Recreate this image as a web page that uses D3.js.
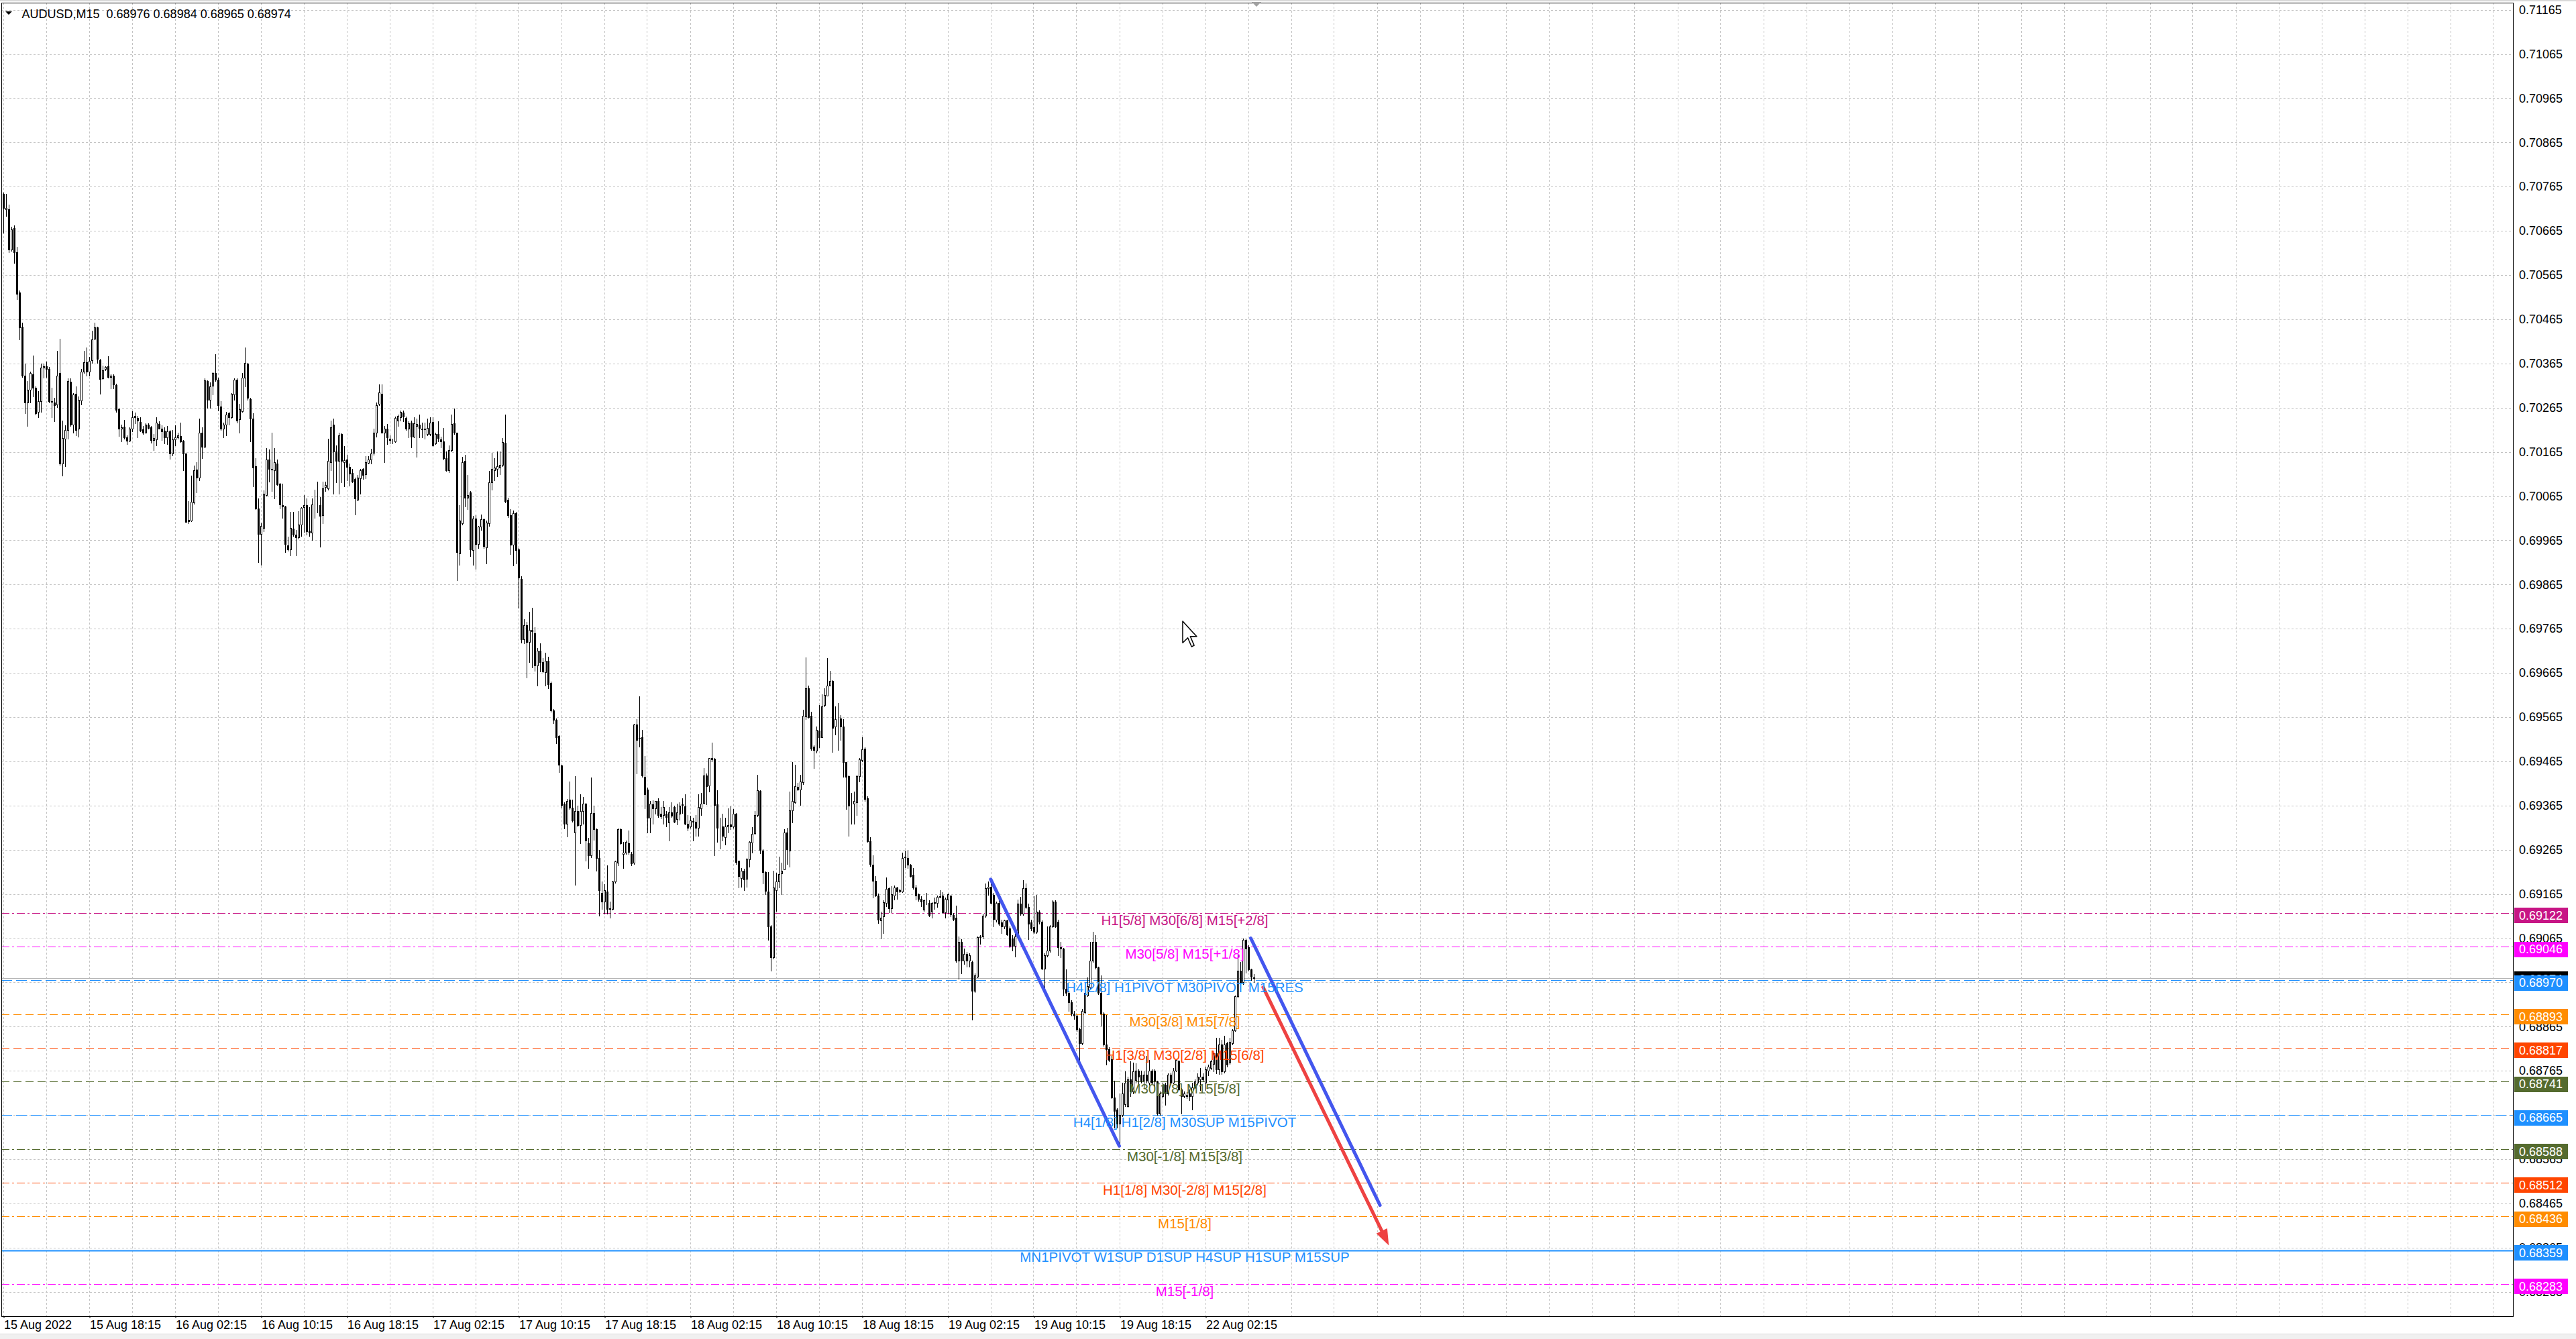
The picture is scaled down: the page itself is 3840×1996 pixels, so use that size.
<!DOCTYPE html>
<html><head><meta charset="utf-8">
<script src="https://cdn.jsdelivr.net/npm/d3@7"></script>
<style>
html,body{margin:0;padding:0;background:#fff;overflow:hidden}
svg{display:block}
text{font-family:"Liberation Sans",Arial,sans-serif}
</style></head><body>
<svg id="c" width="3840" height="1996"></svg>
<script>
const chartTitle = "AUDUSD,M15  0.68976 0.68984 0.68965 0.68974";

const open = [
0.70749,0.70714,0.70714,0.70623,0.70671,0.70617,0.70525,0.70448,0.70338,0.70276,
0.70306,0.70341,0.70310,0.70256,0.70279,0.70355,0.70358,0.70352,0.70280,0.70277,
0.70272,0.70344,0.70139,0.70195,0.70215,0.70324,0.70226,0.70296,0.70217,0.70282,
0.70347,0.70368,0.70347,0.70372,0.70421,0.70446,0.70373,0.70332,0.70352,0.70358,
0.70334,0.70338,0.70316,0.70262,0.70218,0.70222,0.70198,0.70190,0.70217,0.70247,
0.70242,0.70232,0.70216,0.70209,0.70226,0.70221,0.70192,0.70193,0.70228,0.70218,
0.70213,0.70198,0.70211,0.70161,0.70193,0.70198,0.70201,0.70190,0.70161,0.70011,
0.70009,0.70051,0.70125,0.70106,0.70209,0.70177,0.70326,0.70283,0.70314,0.70344,
0.70329,0.70268,0.70217,0.70226,0.70252,0.70244,0.70295,0.70329,0.70239,0.70257,
0.70333,0.70364,0.70285,0.70240,0.70132,0.70037,0.69980,0.69993,0.70068,0.70147,
0.70125,0.70124,0.70139,0.70093,0.70044,0.70042,0.69954,0.69945,0.69992,0.69978,
0.69972,0.70000,0.70040,0.70044,0.69987,0.69982,0.70047,0.70046,0.70045,
0.70022,0.70085,0.70082,0.70142,0.70226,0.70166,0.70144,0.70205,0.70142,0.70147,
0.70131,0.70118,0.70103,0.70057,0.70105,0.70126,0.70115,0.70140,0.70147,0.70163,
0.70208,0.70273,0.70297,0.70209,0.70217,0.70195,0.70189,0.70189,0.70235,0.70243,
0.70254,0.70242,0.70217,0.70231,0.70200,0.70224,0.70226,0.70218,0.70217,0.70206,
0.70206,0.70233,0.70184,0.70206,0.70193,0.70189,0.70150,0.70124,0.70169,0.70230,
0.70208,0.69936,0.70003,0.70144,0.70061,0.70073,0.69943,0.70014,0.69957,0.69996,
0.70012,0.69949,0.70003,0.70096,0.70124,0.70126,0.70129,0.70135,0.70186,0.70057,
0.70022,0.69955,0.70026,0.69945,0.69878,0.69741,0.69773,0.69735,0.69763,0.69754,
0.69682,0.69715,0.69689,0.69667,0.69692,0.69642,0.69580,0.69559,0.69522,0.69455,
0.69369,0.69323,0.69378,0.69360,0.69304,0.69352,0.69320,0.69352,0.69369,0.69280,
0.69252,0.69348,0.69311,0.69246,0.69167,0.69148,0.69171,0.69133,0.69131,0.69193,
0.69236,0.69311,0.69255,0.69258,0.69280,0.69255,0.69236,
0.69549,0.69518,0.69520,0.69430,0.69401,0.69338,0.69367,0.69358,0.69376,0.69346,
0.69343,0.69347,0.69326,0.69349,0.69362,0.69334,0.69347,0.69366,0.69363,0.69324,
0.69317,0.69330,0.69329,0.69314,0.69358,0.69371,0.69433,0.69410,0.69472,0.69471,
0.69368,0.69316,0.69317,0.69294,0.69317,0.69322,0.69317,0.69347,0.69240,0.69201,
0.69218,0.69199,0.69243,0.69281,0.69302,0.69343,0.69398,0.69263,0.69214,0.69171,
0.69092,0.69021,0.69174,0.69193,0.69211,0.69221,0.69304,0.69263,0.69354,0.69373,
0.69407,0.69401,0.69418,0.69567,0.69631,0.69568,0.69498,0.69489,0.69535,0.69520,
0.69592,0.69614,0.69637,0.69647,0.69543,0.69560,0.69562,0.69543,0.69463,0.69432,
0.69368,0.69370,0.69373,0.69432,0.69468,0.69494,0.69381,0.69285,0.69231,0.69194,
0.69162,0.69105,0.69115,0.69145,0.69178,0.69132,0.69162,0.69179,0.69171,0.69171,
0.69248,0.69247,0.69231,0.69208,0.69179,0.69164,0.69154,0.69129,0.69144,0.69144,
0.69125,0.69144,0.69145,0.69159,0.69161,0.69124,0.69152,0.69161,
0.69117,0.69111,0.69014,0.69056,0.69014,0.69029,0.69014,0.69011,0.68946,0.68978,
0.69067,0.69069,0.69116,0.69178,0.69181,0.69163,0.69107,0.69145,0.69101,0.69092,
0.69105,0.69087,0.69064,0.69047,0.69069,0.69143,0.69120,0.69178,0.69135,0.69100,
0.69090,0.69080,0.69125,0.69102,0.68996,0.69026,0.69037,0.69092,0.69148,0.69102,
0.69044,0.69042,0.68951,0.68941,0.68920,0.68895,0.68890,0.68860,0.68827,0.68898,
0.68935,0.68953,0.69014,0.69057,0.68999,0.68941,0.68895,0.68824,0.68814,0.68791,
0.68705,0.68678,0.68645,0.68665,0.68690,0.68685,0.68746,0.68718,0.68744,0.68766,
0.68756,0.68743,0.68756,0.68738,0.68766,0.68766,0.68741,0.68668,0.68708,0.68733,
0.68713,0.68756,0.68738,0.68766,0.68786,0.68723,0.68708,0.68708,0.68713,0.68708,
0.68728,0.68738,0.68746,0.68751,0.68738,0.68766,0.68771,0.68781,0.68804,0.68769,
0.68825,0.68764,0.68827,0.68784,0.68827,0.68857,0.68933,0.68991,0.68966,0.69061,
0.69044,0.68994,0.68976];

const high = [
0.70751,0.70748,0.70724,0.70674,0.70678,0.70628,0.70530,0.70457,0.70364,0.70326,
0.70347,0.70383,0.70313,0.70302,0.70364,0.70364,0.70369,0.70357,0.70310,0.70288,
0.70393,0.70421,0.70236,0.70225,0.70331,0.70331,0.70298,0.70313,0.70290,0.70353,
0.70394,0.70401,0.70380,0.70439,0.70457,0.70448,0.70376,0.70360,0.70358,0.70381,
0.70341,0.70341,0.70319,0.70265,0.70226,0.70237,0.70203,0.70220,0.70257,0.70254,
0.70246,0.70244,0.70223,0.70229,0.70229,0.70223,0.70205,0.70244,0.70234,0.70225,
0.70221,0.70223,0.70215,0.70214,0.70225,0.70209,0.70231,0.70192,0.70162,0.70054,
0.70111,0.70134,0.70142,0.70240,0.70221,0.70331,0.70327,0.70322,0.70345,0.70386,
0.70333,0.70279,0.70231,0.70256,0.70256,0.70298,0.70331,0.70332,0.70273,0.70343,
0.70401,0.70366,0.70288,0.70252,0.70151,0.70059,0.70003,0.70078,0.70173,0.70171,
0.70208,0.70173,0.70147,0.70095,0.70093,0.70043,0.69973,0.70029,0.70029,0.69989,
0.70031,0.70040,0.70068,0.70059,0.70040,0.70059,0.70080,0.70097,0.70062,
0.70098,0.70098,0.70194,0.70235,0.70240,0.70180,0.70208,0.70207,0.70178,0.70159,
0.70138,0.70126,0.70107,0.70113,0.70126,0.70128,0.70156,0.70156,0.70172,0.70217,
0.70277,0.70317,0.70317,0.70224,0.70228,0.70203,0.70194,0.70245,0.70249,0.70259,
0.70259,0.70245,0.70234,0.70235,0.70243,0.70240,0.70249,0.70231,0.70231,0.70240,
0.70243,0.70243,0.70209,0.70234,0.70200,0.70219,0.70166,0.70180,0.70249,0.70263,
0.70209,0.70045,0.70154,0.70159,0.70113,0.70077,0.70020,0.70022,0.69998,0.70024,
0.70014,0.70010,0.70122,0.70163,0.70150,0.70166,0.70166,0.70196,0.70249,0.70061,
0.70036,0.70033,0.70029,0.69947,0.69884,0.69787,0.69780,0.69803,0.69812,0.69769,
0.69722,0.69732,0.69698,0.69710,0.69701,0.69645,0.69583,0.69562,0.69524,0.69457,
0.69373,0.69380,0.69420,0.69379,0.69432,0.69364,0.69390,0.69385,0.69371,0.69292,
0.69429,0.69364,0.69313,0.69264,0.69193,0.69187,0.69230,0.69148,0.69195,0.69241,
0.69313,0.69313,0.69283,0.69286,0.69308,0.69260,0.69550,
0.69561,0.69612,0.69536,0.69477,0.69405,0.69375,0.69377,0.69376,0.69382,0.69362,
0.69376,0.69353,0.69362,0.69372,0.69364,0.69370,0.69372,0.69382,0.69391,0.69344,
0.69342,0.69337,0.69343,0.69391,0.69393,0.69450,0.69437,0.69473,0.69508,0.69473,
0.69400,0.69337,0.69347,0.69337,0.69359,0.69363,0.69357,0.69348,0.69241,0.69223,
0.69222,0.69246,0.69285,0.69316,0.69353,0.69435,0.69400,0.69266,0.69216,0.69215,
0.69094,0.69218,0.69213,0.69250,0.69235,0.69312,0.69314,0.69397,0.69464,0.69458,
0.69417,0.69435,0.69582,0.69700,0.69637,0.69577,0.69501,0.69543,0.69592,0.69617,
0.69631,0.69699,0.69669,0.69649,0.69589,0.69597,0.69570,0.69561,0.69464,0.69433,
0.69393,0.69397,0.69434,0.69473,0.69519,0.69497,0.69386,0.69294,0.69252,0.69205,
0.69166,0.69125,0.69150,0.69203,0.69180,0.69183,0.69184,0.69181,0.69176,0.69258,
0.69263,0.69263,0.69232,0.69223,0.69185,0.69166,0.69160,0.69152,0.69167,0.69151,
0.69146,0.69157,0.69162,0.69174,0.69169,0.69157,0.69166,0.69162,
0.69122,0.69138,0.69069,0.69062,0.69042,0.69034,0.69031,0.69014,0.68986,0.69069,
0.69072,0.69120,0.69189,0.69193,0.69197,0.69168,0.69148,0.69150,0.69107,0.69107,
0.69107,0.69092,0.69072,0.69077,0.69153,0.69158,0.69196,0.69188,0.69143,0.69107,
0.69160,0.69163,0.69128,0.69105,0.69031,0.69092,0.69095,0.69150,0.69150,0.69107,
0.69057,0.69043,0.68994,0.68946,0.68925,0.68900,0.68892,0.68862,0.68905,0.68951,
0.68976,0.69057,0.69080,0.69072,0.69001,0.68981,0.68898,0.68892,0.68819,0.68799,
0.68743,0.68680,0.68713,0.68738,0.68764,0.68751,0.68787,0.68784,0.68782,0.68768,
0.68766,0.68764,0.68799,0.68789,0.68768,0.68768,0.68743,0.68718,0.68738,0.68738,
0.68759,0.68761,0.68771,0.68791,0.68789,0.68726,0.68718,0.68716,0.68723,0.68738,
0.68746,0.68759,0.68771,0.68759,0.68774,0.68779,0.68789,0.68806,0.68839,0.68839,
0.68835,0.68844,0.68830,0.68840,0.68860,0.68936,0.69027,0.69011,0.69064,0.69063,
0.69049,0.68996,0.68984];

const low = [
0.70661,0.70698,0.70616,0.70620,0.70592,0.70511,0.70419,0.70334,0.70252,0.70223,
0.70276,0.70290,0.70249,0.70244,0.70256,0.70333,0.70335,0.70277,0.70244,0.70234,
0.70266,0.70136,0.70111,0.70132,0.70195,0.70223,0.70209,0.70203,0.70200,0.70272,
0.70344,0.70338,0.70338,0.70366,0.70420,0.70366,0.70296,0.70330,0.70350,0.70333,
0.70308,0.70308,0.70256,0.70201,0.70189,0.70195,0.70182,0.70189,0.70211,0.70229,
0.70198,0.70211,0.70205,0.70208,0.70217,0.70186,0.70169,0.70180,0.70217,0.70192,
0.70184,0.70182,0.70149,0.70157,0.70180,0.70195,0.70187,0.70124,0.70006,0.70004,
0.70008,0.70047,0.70074,0.70101,0.70150,0.70175,0.70265,0.70265,0.70295,0.70326,
0.70258,0.70214,0.70198,0.70203,0.70226,0.70242,0.70283,0.70231,0.70209,0.70256,
0.70313,0.70283,0.70189,0.70087,0.70035,0.69915,0.69910,0.69985,0.70066,0.70097,
0.70077,0.70059,0.70090,0.70037,0.70016,0.69938,0.69942,0.69930,0.69975,0.69931,
0.69969,0.69975,0.69984,0.69978,0.69975,0.69966,0.70015,0.70028,0.69950,
0.70003,0.70076,0.70079,0.70124,0.70070,0.70096,0.70070,0.70096,0.70087,0.70101,
0.70089,0.70096,0.70023,0.70055,0.70070,0.70103,0.70105,0.70138,0.70138,0.70159,
0.70200,0.70270,0.70208,0.70141,0.70182,0.70184,0.70184,0.70187,0.70224,0.70235,
0.70234,0.70215,0.70198,0.70175,0.70198,0.70154,0.70198,0.70198,0.70194,0.70203,
0.70203,0.70178,0.70182,0.70189,0.70175,0.70147,0.70122,0.70119,0.70166,0.70206,
0.69875,0.69910,0.70001,0.70042,0.70036,0.69929,0.69910,0.69901,0.69947,0.69989,
0.69947,0.69912,0.69998,0.70079,0.70101,0.70110,0.70115,0.70133,0.70051,0.70017,
0.69933,0.69908,0.69912,0.69813,0.69734,0.69732,0.69655,0.69689,0.69678,0.69670,
0.69636,0.69668,0.69667,0.69636,0.69631,0.69577,0.69552,0.69506,0.69441,0.69360,
0.69313,0.69295,0.69357,0.69329,0.69185,0.69317,0.69280,0.69323,0.69241,0.69224,
0.69248,0.69288,0.69218,0.69116,0.69131,0.69120,0.69120,0.69111,0.69129,0.69190,
0.69230,0.69278,0.69224,0.69255,0.69255,0.69230,0.69233,
0.69437,0.69498,0.69430,0.69359,0.69304,0.69304,0.69323,0.69346,0.69339,0.69336,
0.69323,0.69317,0.69286,0.69339,0.69326,0.69322,0.69333,0.69348,0.69322,0.69309,
0.69315,0.69286,0.69297,0.69296,0.69344,0.69370,0.69368,0.69396,0.69465,0.69252,
0.69282,0.69267,0.69286,0.69277,0.69304,0.69311,0.69314,0.69233,0.69180,0.69181,
0.69174,0.69181,0.69227,0.69258,0.69300,0.69341,0.69257,0.69188,0.69165,0.69061,
0.68991,0.69019,0.69127,0.69180,0.69165,0.69220,0.69233,0.69226,0.69326,0.69371,
0.69400,0.69366,0.69413,0.69560,0.69564,0.69491,0.69450,0.69484,0.69496,0.69519,
0.69590,0.69613,0.69636,0.69486,0.69526,0.69491,0.69513,0.69430,0.69357,0.69297,
0.69324,0.69323,0.69344,0.69419,0.69465,0.69375,0.69282,0.69228,0.69157,0.69160,
0.69099,0.69064,0.69077,0.69137,0.69124,0.69124,0.69152,0.69154,0.69169,0.69169,
0.69225,0.69223,0.69204,0.69176,0.69152,0.69149,0.69137,0.69127,0.69142,0.69115,
0.69112,0.69131,0.69136,0.69157,0.69122,0.69112,0.69121,0.69115,
0.69105,0.69011,0.68973,0.68986,0.69006,0.69001,0.69001,0.68880,0.68943,0.68976,
0.69052,0.69064,0.69113,0.69163,0.69143,0.69092,0.69102,0.69095,0.69077,0.69087,
0.69072,0.69044,0.69037,0.69024,0.69064,0.69117,0.69117,0.69132,0.69062,0.69082,
0.69077,0.69077,0.69097,0.68994,0.68946,0.69024,0.69034,0.69090,0.69090,0.69026,
0.69021,0.68935,0.68935,0.68900,0.68890,0.68882,0.68855,0.68779,0.68825,0.68895,
0.68933,0.68951,0.69011,0.68996,0.68938,0.68867,0.68821,0.68779,0.68787,0.68703,
0.68637,0.68637,0.68599,0.68662,0.68685,0.68683,0.68708,0.68713,0.68738,0.68733,
0.68738,0.68726,0.68738,0.68733,0.68736,0.68721,0.68665,0.68665,0.68705,0.68688,
0.68710,0.68733,0.68736,0.68764,0.68721,0.68668,0.68705,0.68703,0.68698,0.68678,
0.68726,0.68733,0.68721,0.68741,0.68721,0.68754,0.68769,0.68764,0.68759,0.68758,
0.68758,0.68761,0.68774,0.68781,0.68825,0.68855,0.68930,0.68961,0.68961,0.68987,
0.68992,0.68970,0.68965];

const close = [
0.70717,0.70717,0.70622,0.70668,0.70616,0.70523,0.70447,0.70337,0.70277,0.70306,
0.70344,0.70310,0.70252,0.70279,0.70355,0.70358,0.70353,0.70279,0.70278,0.70271,
0.70337,0.70138,0.70196,0.70214,0.70326,0.70226,0.70295,0.70215,0.70283,0.70347,
0.70367,0.70347,0.70371,0.70420,0.70446,0.70375,0.70330,0.70349,0.70357,0.70335,
0.70338,0.70318,0.70260,0.70218,0.70221,0.70198,0.70190,0.70217,0.70244,0.70244,
0.70236,0.70213,0.70209,0.70227,0.70219,0.70192,0.70196,0.70231,0.70218,0.70211,
0.70198,0.70212,0.70161,0.70193,0.70198,0.70203,0.70189,0.70161,0.70007,0.70008,
0.70052,0.70124,0.70106,0.70209,0.70177,0.70327,0.70283,0.70313,0.70344,0.70329,
0.70270,0.70217,0.70226,0.70249,0.70244,0.70296,0.70329,0.70236,0.70262,0.70333,
0.70366,0.70287,0.70240,0.70130,0.70037,0.69980,0.69998,0.70070,0.70147,0.70127,
0.70127,0.70141,0.70091,0.70046,0.70042,0.69956,0.69945,0.69993,0.69978,0.69972,
0.70000,0.70038,0.70044,0.69985,0.69982,0.70046,0.70047,0.70046,0.70020,
0.70082,0.70090,0.70144,0.70221,0.70166,0.70144,0.70203,0.70144,0.70146,0.70131,
0.70116,0.70098,0.70059,0.70107,0.70124,0.70113,0.70142,0.70147,0.70161,0.70209,
0.70271,0.70299,0.70209,0.70217,0.70198,0.70191,0.70188,0.70242,0.70247,0.70256,
0.70245,0.70217,0.70230,0.70200,0.70230,0.70228,0.70219,0.70216,0.70216,0.70219,
0.70231,0.70180,0.70206,0.70196,0.70189,0.70150,0.70124,0.70169,0.70228,0.70208,
0.69938,0.70010,0.70142,0.70061,0.70068,0.69945,0.70014,0.69957,0.69996,0.70012,
0.69952,0.70005,0.70096,0.70126,0.70129,0.70133,0.70135,0.70187,0.70054,0.70022,
0.69955,0.70026,0.69943,0.69880,0.69741,0.69773,0.69735,0.69763,0.69759,0.69682,
0.69715,0.69689,0.69668,0.69692,0.69639,0.69580,0.69559,0.69520,0.69457,0.69366,
0.69323,0.69376,0.69360,0.69332,0.69352,0.69320,0.69352,0.69369,0.69286,0.69252,
0.69348,0.69311,0.69246,0.69174,0.69148,0.69174,0.69131,0.69131,0.69193,0.69239,
0.69311,0.69280,0.69258,0.69283,0.69260,0.69234,0.69548,
0.69514,0.69516,0.69433,0.69390,0.69338,0.69370,0.69358,0.69375,0.69343,0.69341,
0.69362,0.69339,0.69349,0.69342,0.69328,0.69349,0.69364,0.69367,0.69323,0.69314,
0.69332,0.69329,0.69314,0.69361,0.69370,0.69433,0.69408,0.69472,0.69469,0.69366,
0.69314,0.69316,0.69296,0.69317,0.69321,0.69317,0.69347,0.69237,0.69205,0.69218,
0.69198,0.69243,0.69282,0.69301,0.69343,0.69400,0.69265,0.69214,0.69172,0.69092,
0.69021,0.69179,0.69193,0.69210,0.69218,0.69304,0.69266,0.69354,0.69375,0.69408,
0.69401,0.69419,0.69568,0.69631,0.69565,0.69494,0.69491,0.69536,0.69519,0.69590,
0.69615,0.69636,0.69647,0.69541,0.69560,0.69561,0.69543,0.69463,0.69430,0.69364,
0.69368,0.69376,0.69432,0.69469,0.69492,0.69380,0.69284,0.69232,0.69195,0.69161,
0.69107,0.69112,0.69146,0.69176,0.69132,0.69164,0.69180,0.69171,0.69174,0.69247,
0.69249,0.69231,0.69206,0.69179,0.69161,0.69154,0.69147,0.69151,0.69145,0.69117,
0.69144,0.69146,0.69159,0.69160,0.69124,0.69154,0.69164,0.69119,
0.69108,0.69014,0.69056,0.69014,0.69029,0.69014,0.69026,0.68946,0.68981,0.69067,
0.69069,0.69116,0.69178,0.69181,0.69145,0.69108,0.69145,0.69097,0.69092,0.69105,
0.69074,0.69047,0.69047,0.69069,0.69143,0.69120,0.69178,0.69135,0.69097,0.69087,
0.69080,0.69125,0.69102,0.68996,0.69026,0.69037,0.69092,0.69148,0.69092,0.69044,
0.69042,0.68951,0.68941,0.68920,0.68895,0.68890,0.68860,0.68827,0.68900,0.68941,
0.68956,0.69014,0.69057,0.68999,0.68941,0.68895,0.68824,0.68814,0.68789,0.68705,
0.68675,0.68645,0.68665,0.68713,0.68738,0.68746,0.68718,0.68764,0.68766,0.68751,
0.68743,0.68756,0.68743,0.68766,0.68738,0.68743,0.68668,0.68713,0.68733,0.68713,
0.68756,0.68738,0.68766,0.68789,0.68723,0.68708,0.68713,0.68710,0.68708,0.68728,
0.68741,0.68751,0.68751,0.68746,0.68769,0.68774,0.68786,0.68804,0.68769,0.68825,
0.68764,0.68825,0.68779,0.68830,0.68857,0.68933,0.68991,0.68966,0.69061,0.69042,
0.68994,0.68978,0.68974];

// time axis (bar index of each label, label text)
const timeTickBars = [0,32,64,96,128,160,192,224,256,288,320,352,384,416,448];
const timeTickLabels = ["15 Aug 2022","15 Aug 18:15","16 Aug 02:15","16 Aug 10:15","16 Aug 18:15",
  "17 Aug 02:15","17 Aug 10:15","17 Aug 18:15","18 Aug 02:15","18 Aug 10:15","18 Aug 18:15",
  "19 Aug 02:15","19 Aug 10:15","19 Aug 18:15","22 Aug 02:15"];
const gridBarStep = 16;

// price axis ticks
const priceTicks = [0.71165,0.71065,0.70965,0.70865,0.70765,0.70665,0.70565,0.70465,0.70365,0.70265,
  0.70165,0.70065,0.69965,0.69865,0.69765,0.69665,0.69565,0.69465,0.69365,0.69265,
  0.69165,0.69065,0.68965,0.68865,0.68765,0.68665,0.68565,0.68465,0.68365,0.68265];

// Murrey / pivot levels
const levelPrices = [0.69122,0.69046,0.68970,0.68893,0.68817,0.68741,0.68665,0.68588,0.68512,0.68436,0.68359,0.68283];
const levelNames = ["H1[5/8] M30[6/8] M15[+2/8]","M30[5/8] M15[+1/8]","H4[2/8] H1PIVOT M30PIVOT M15RES",
  "M30[3/8] M15[7/8]","H1[3/8] M30[2/8] M15[6/8]","M30[1/8] M15[5/8]","H4[1/8] H1[2/8] M30SUP M15PIVOT",
  "M30[-1/8] M15[3/8]","H1[1/8] M30[-2/8] M15[2/8]","M15[1/8]","MN1PIVOT W1SUP D1SUP H4SUP H1SUP M15SUP","M15[-1/8]"];
const levelColors = ["#C71585","#FF00FF","#1E90FF","#FF8C00","#FF4500","#556B2F","#1E90FF","#556B2F","#FF4500","#FF8C00","#1E90FF","#FF00FF"];
const levelStyles = ["dashdot","dashdot","longdash","dash","dash","dash","longdash","dashdot","dashdot","dashdot","solid","dashdot"];
const bidPrice = 0.68974;

// trend lines (bar index, price)
const trendStartBar = [367.85, 464.75];
const trendStartPrice = [0.69198, 0.69065];
const trendEndBar = [415.75, 512.9];
const trendEndPrice = [0.68595, 0.68461];
const arrowBars = [469.35, 516.2];
const arrowPrices = [0.68954, 0.68370];

// ---------------------------------------------------------------
const svg = d3.select("#c");
const plot = {left:2, top:4, right:3746, bottom:1962};
const x = d3.scaleLinear().domain([-0.875, 935.125]).range([plot.left, plot.right]);
const y = d3.scaleLinear().domain([0.682099, 0.711811]).range([plot.bottom, plot.top]);
const FONT = '"Liberation Sans", Arial, sans-serif';

svg.append("rect").attr("width",3840).attr("height",1996).attr("fill","#ffffff");
svg.append("rect").attr("x",0).attr("y",0).attr("width",3840).attr("height",2).attr("fill","#d9d9d9");
svg.append("rect").attr("x",0).attr("y",1988).attr("width",3840).attr("height",8).attr("fill","#f0f0f0");
svg.append("line").attr("x1",0).attr("x2",3840).attr("y1",1988.5).attr("y2",1988.5).attr("stroke","#dcdcdc");

svg.append("clipPath").attr("id","plotclip").append("rect")
  .attr("x",plot.left).attr("y",plot.top).attr("width",plot.right-plot.left).attr("height",plot.bottom-plot.top);
const gPlot = svg.append("g").attr("clip-path","url(#plotclip)");

// grid
const gridBars = d3.range(0, 936, gridBarStep);
gPlot.append("g").selectAll("line").data(gridBars).join("line")
  .attr("x1",d=>Math.round(x(d))-0.5).attr("x2",d=>Math.round(x(d))-0.5)
  .attr("y1",plot.top).attr("y2",plot.bottom)
  .attr("stroke","#c4c4c4").attr("stroke-dasharray","3,3").attr("stroke-width",1);
gPlot.append("g").selectAll("line").data(priceTicks).join("line")
  .attr("x1",plot.left).attr("x2",plot.right)
  .attr("y1",d=>Math.round(y(d))+0.5).attr("y2",d=>Math.round(y(d))+0.5)
  .attr("stroke","#c4c4c4").attr("stroke-dasharray","3,3").attr("stroke-width",1);

// level lines
const dashMap = {dash:"12,6", longdash:"16,6", dashdot:"12,4,3,4", solid:null};
levelPrices.forEach((p,i)=>{
  gPlot.append("line").attr("x1",plot.left).attr("x2",plot.right)
    .attr("y1",Math.round(y(p))+0.5).attr("y2",Math.round(y(p))+0.5)
    .attr("stroke",levelColors[i]).attr("stroke-width",levelStyles[i]==="solid"?2:1)
    .attr("stroke-dasharray",dashMap[levelStyles[i]]);
});
// bid line
gPlot.append("line").attr("x1",plot.left).attr("x2",plot.right)
  .attr("y1",Math.round(y(bidPrice))+0.5).attr("y2",Math.round(y(bidPrice))+0.5)
  .attr("stroke","#b4b4b4").attr("stroke-width",1);

// candles
const bars = d3.range(open.length);
const gC = gPlot.append("g");
gC.selectAll("line").data(bars).join("line")
  .attr("x1",i=>x(i)).attr("x2",i=>x(i))
  .attr("y1",i=>Math.round(y(Math.max(high[i],open[i],close[i]))))
  .attr("y2",i=>Math.round(y(Math.min(low[i],open[i],close[i])))+1)
  .attr("stroke","#000").attr("stroke-width",1);
gC.selectAll("rect").data(bars).join("rect")
  .attr("x",i=>x(i)-1).attr("width",2)
  .attr("y",i=>Math.round(y(Math.max(open[i],close[i])))+0.5)
  .attr("height",i=>Math.max(0,Math.round(y(Math.min(open[i],close[i])))-Math.round(y(Math.max(open[i],close[i])))))
  .attr("fill",i=>close[i]>=open[i]?"#ffffff":"#000000")
  .attr("stroke","#000").attr("stroke-width",1);

// trend lines
trendStartBar.forEach((b,i)=>{
  gPlot.append("line").attr("x1",x(b)).attr("y1",y(trendStartPrice[i]))
    .attr("x2",x(trendEndBar[i])).attr("y2",y(trendEndPrice[i]))
    .attr("stroke","#4356EE").attr("stroke-width",5).attr("stroke-linecap","round");
});
// red arrow
{
  const x1=x(arrowBars[0]), y1=y(arrowPrices[0]), x2=x(arrowBars[1]), y2=y(arrowPrices[1]);
  const dx=x2-x1, dy=y2-y1, L=Math.hypot(dx,dy), ux=dx/L, uy=dy/L;
  const hl=24, hw=9;
  const bx=x2-ux*hl, by=y2-uy*hl;
  gPlot.append("line").attr("x1",x1).attr("y1",y1).attr("x2",bx+ux*2).attr("y2",by+uy*2)
    .attr("stroke","#EE4242").attr("stroke-width",5).attr("stroke-linecap","round");
  gPlot.append("path")
    .attr("d",`M${x2},${y2}L${bx-uy*hw},${by+ux*hw}L${bx+uy*hw},${by-ux*hw}Z`)
    .attr("fill","#EE4242");
}

// level labels
levelPrices.forEach((p,i)=>{
  gPlot.append("text").attr("x",1766).attr("y",y(p)+17.7)
    .attr("text-anchor","middle").attr("font-size","20.5px").attr("font-family",FONT)
    .attr("fill",levelColors[i]).text(levelNames[i]);
});

// border
svg.append("rect").attr("x",plot.left+0.5).attr("y",plot.top+0.5)
  .attr("width",plot.right-plot.left).attr("height",plot.bottom-plot.top)
  .attr("fill","none").attr("stroke","#000").attr("stroke-width",1);

// price axis
const yAxis = svg.append("g").attr("transform",`translate(${plot.right},0)`)
  .call(d3.axisRight(y).tickValues(priceTicks).tickFormat(d3.format(".5f")).tickSize(0).tickSizeOuter(0).tickPadding(9));
yAxis.attr("font-family",FONT).attr("font-size","18px");
yAxis.selectAll("text").attr("fill","#000");
yAxis.select(".domain").attr("stroke","#000");

// time axis
const xAxis = svg.append("g").attr("transform",`translate(0,${plot.bottom})`)
  .call(d3.axisBottom(x).tickValues(timeTickBars).tickFormat((d,i)=>timeTickLabels[i]).tickSize(3).tickSizeOuter(0));
xAxis.attr("font-family",FONT).attr("font-size","18px");
xAxis.selectAll("text").attr("text-anchor","start").attr("x",0).attr("y",19).attr("dy",null).attr("fill","#000");
xAxis.select(".domain").attr("stroke","#000");

// price boxes
const boxG = svg.append("g");
function priceBox(p, color, off){
  const cy = y(p)+off;
  boxG.append("rect").attr("x",3748).attr("y",Math.round(cy-11.5)).attr("width",80).attr("height",23).attr("fill",color);
  boxG.append("text").attr("x",3755).attr("y",cy).attr("dy","0.35em")
    .attr("font-family",FONT).attr("font-size","18px").attr("fill","#fff").text(d3.format(".5f")(p));
}
priceBox(bidPrice, "#000000", 1);
levelPrices.forEach((p,i)=>priceBox(p, levelColors[i], 4));

// title
svg.append("path").attr("d","M8,17L18,17L13,22Z").attr("fill","#000");
svg.append("text").attr("x",32.5).attr("y",27).attr("font-family",FONT).attr("font-size","18px")
  .attr("fill","#000").style("white-space","pre").text(chartTitle);

// chart shift marker
svg.append("path").attr("d","M1866,3L1880,3L1873,10Z").attr("fill","#a0a0a0");

// mouse cursor
svg.append("path").attr("transform","translate(1763,926) scale(1.9)")
  .attr("d","M0,0L0,17L4,13L7,20L9,19L6,12L11,12Z")
  .attr("fill","#fff").attr("stroke","#000").attr("stroke-width",0.8).attr("stroke-linejoin","round");
</script>
</body></html>
